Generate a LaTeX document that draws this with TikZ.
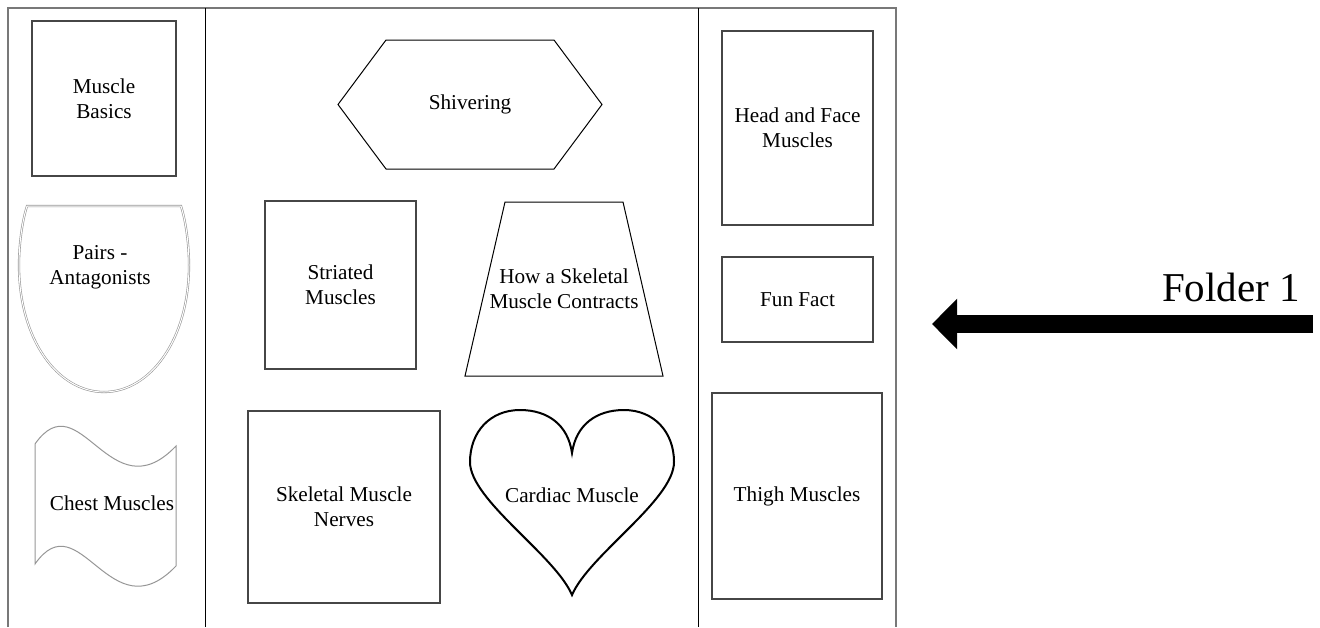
\documentclass[tikz,border=0pt]{standalone}
\usepackage{fontspec}
\setmainfont{Liberation Serif}
\usepackage{tikz}
\usetikzlibrary{arrows.meta,positioning}

\definecolor{framegray}{RGB}{120,120,120}
\definecolor{boxgray}{RGB}{70,70,70}
\definecolor{lightgray}{RGB}{150,150,150}

\begin{document}
\begin{tikzpicture}[x=0.5pt,y=-0.5pt]
% Folder layout

   \tikzstyle{txt} = [align=center, inner sep=0pt, font=\fontsize{10.6pt}{12.6pt}\selectfont]
   \tikzstyle{box} = [txt, draw=boxgray, line width=0.6pt]
   \tikzstyle{shp} = [draw=black, line width=0.5pt]

\useasboundingbox (0,0) rectangle (1320,627);

% outline of the open folder
\draw[framegray, line width=0.7pt] (8,627) -- (8,8) -- (896,8) -- (896,627);
\draw[black, line width=0.5pt] (205,8) -- (205,627);
\draw[black, line width=0.5pt] (698,8) -- (698,627);

% left panel
\node[box, minimum width=72pt, minimum height=77.5pt] (basics) at (104,98.5) {Muscle\\Basics};

\draw[lightgray, line width=0.3pt, double=white, double distance=0.5pt]
   (27,206) -- (181,206) .. controls (186,222) and (189,245) .. (189,265)
   .. controls (189,340) and (150,392) .. (104,392)
   .. controls (58,392) and (19,340) .. (19,265)
   .. controls (19,245) and (22,222) .. cycle;
\node[txt] (pairs) at (100,267) {Pairs -\\Antagonists};

\draw[lightgray, line width=0.5pt]
   (35,444) .. controls (80,380) and (110,515) .. (176,446) -- (176,566)
   .. controls (110,635) and (80,500) .. (35,564) -- cycle;
\node[txt] (chest) at (112,503) {Chest Muscles};

% middle panel
\draw[shp] (338,104.5) -- (386,40) -- (554,40) -- (602,104.5) -- (554,169) -- (386,169) -- cycle;
\node[txt] (shiver) at (470,104) {Shivering};

\node[box, minimum width=75.5pt, minimum height=84pt] (striated) at (340.5,285) {Striated\\Muscles};

\draw[shp] (505,202) -- (623,202) -- (663,376) -- (465,376) -- cycle;
\node[txt] (contract) at (564,289) {How a Skeletal\\Muscle Contracts};

\node[box, minimum width=96pt, minimum height=96pt] (nerves) at (344,507) {Skeletal Muscle\\Nerves};

\draw[black, line width=1pt]
   (572,453) .. controls (568,425) and (548,410) .. (520,410)
   .. controls (490,410) and (470,432) .. (470,462)
   .. controls (470,500) and (555,555) .. (572,595)
   .. controls (589,555) and (674,500) .. (674,462)
   .. controls (674,432) and (654,410) .. (624,410)
   .. controls (596,410) and (576,425) .. cycle;
\node[txt] (cardiac) at (572,495) {Cardiac Muscle};

% right panel
\node[box, minimum width=75.5pt, minimum height=97pt] (head) at (797.5,128) {Head and Face\\Muscles};
\node[box, minimum width=75.5pt, minimum height=42.5pt] (funfact) at (797.5,299.5) {Fun Fact};
\node[box, minimum width=85pt, minimum height=103pt] (thigh) at (797,496) {Thigh Muscles};

% label and pointer
\node[font=\fontsize{20.5pt}{24pt}\selectfont, inner sep=0pt] (folder) at (1231,287) {Folder 1};
\coordinate (tail) at (1313,324);
\coordinate (tip) at (932,324);
\draw[line width=9pt, -{Triangle[length=12.5pt, width=24.5pt]}] (tail) -- (tip);
\end{tikzpicture}
\end{document}
